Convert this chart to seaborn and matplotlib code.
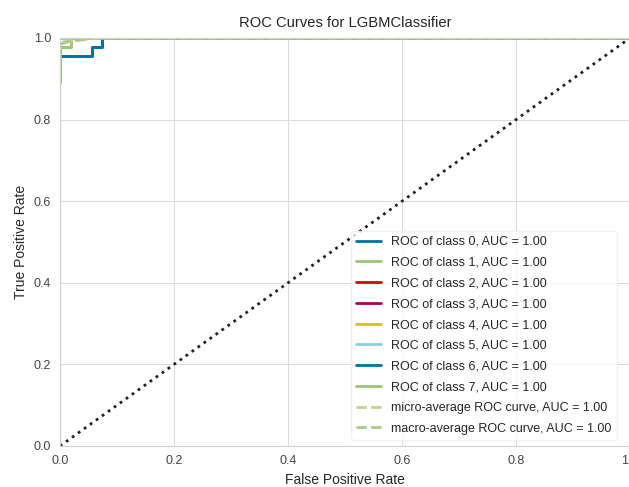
import matplotlib
matplotlib.use("Agg")
import matplotlib.pyplot as plt
import seaborn as sns

# ROC curve points (FPR, TPR)
class_names = ["0", "1", "2", "3", "4", "5", "6", "7"]
class_auc = [1.00, 1.00, 1.00, 1.00, 1.00, 1.00, 1.00, 1.00]
fpr_class0 = [0.0, 0.0, 0.056, 0.056, 0.074, 0.074, 1.0]
tpr_class0 = [0.955, 0.955, 0.955, 0.978, 0.978, 1.0, 1.0]
fpr_class1 = [0.0, 0.0, 0.02, 0.02, 1.0]
tpr_class1 = [0.892, 0.978, 0.978, 1.0, 1.0]
fpr_perfect = [0.0, 1.0]
tpr_perfect = [1.0, 1.0]
fpr_micro = [0.0, 0.0, 0.03, 0.07, 1.0]
tpr_micro = [0.96, 0.99, 0.994, 1.0, 1.0]
fpr_macro = [0.0, 0.0, 0.02, 0.06, 1.0]
tpr_macro = [0.95, 0.985, 0.993, 1.0, 1.0]
micro_auc = 1.00
macro_auc = 1.00

curves_fpr = [fpr_class0, fpr_class1, fpr_perfect, fpr_perfect,
              fpr_perfect, fpr_perfect, fpr_class0, fpr_class1]
curves_tpr = [tpr_class0, tpr_class1, tpr_perfect, tpr_perfect,
              tpr_perfect, tpr_perfect, tpr_class0, tpr_class1]

palette = ["#0272a2", "#9fc377", "#ca0b03", "#a50258", "#d7c703", "#88cee6"]

sns.set_style("whitegrid", {"grid.color": "#dcdcdc", "axes.edgecolor": "#d0d0d0"})
plt.rcParams["font.family"] = ["Liberation Sans", "DejaVu Sans"]
plt.rcParams["font.size"] = 9

fig = plt.figure(figsize=(6.29, 4.87), dpi=100)
ax = fig.add_axes([60 / 629, 41 / 487, 570 / 629, 408 / 487])

for i, name in enumerate(class_names):
    sns.lineplot(x=curves_fpr[i], y=curves_tpr[i], ax=ax, sort=False, estimator=None,
                 color=palette[i % len(palette)], linewidth=2,
                 label="ROC of class {}, AUC = {:0.2f}".format(name, class_auc[i]))

sns.lineplot(x=fpr_micro, y=tpr_micro, ax=ax, sort=False, estimator=None,
             color="#c8cf8a", linewidth=2, linestyle="--",
             label="micro-average ROC curve, AUC = {:0.2f}".format(micro_auc))
sns.lineplot(x=fpr_macro, y=tpr_macro, ax=ax, sort=False, estimator=None,
             color="#a8c98c", linewidth=2, linestyle="--",
             label="macro-average ROC curve, AUC = {:0.2f}".format(macro_auc))

# chance line
sns.lineplot(x=[0, 1], y=[0, 1], ax=ax, color="#222222", linewidth=2,
             linestyle=":", legend=False)

ax.set_xlim(0, 1)
ax.set_ylim(0, 1)
ax.set_title("ROC Curves for LGBMClassifier", fontsize=10.6, pad=8)
ax.set_xlabel("False Positive Rate", fontsize=10)
ax.set_ylabel("True Positive Rate", fontsize=10)
ax.tick_params(labelsize=9, colors="#444444", pad=3)
ax.legend(loc="lower right", bbox_to_anchor=(1 - 7 / 570, 0), frameon=True,
          facecolor="white", edgecolor="#eeeeee", fontsize=9, labelspacing=0.7)

fig.savefig("out.png", dpi=100)
